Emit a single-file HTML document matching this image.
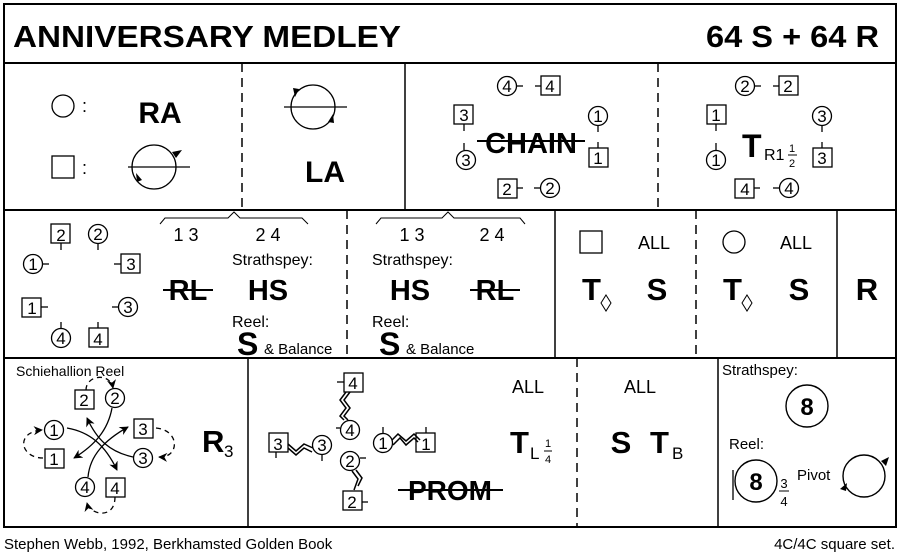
<!DOCTYPE html>
<html><head><meta charset="utf-8"><style>
html,body{margin:0;padding:0;background:#fff}
svg{display:block}
text{font-family:"Liberation Sans",sans-serif;fill:#000}
.b{font-weight:bold}
.n{text-anchor:middle}
</style></head><body>
<svg width="900" height="557" viewBox="0 0 900 557" xmlns="http://www.w3.org/2000/svg" font-size="17">
<defs>
<marker id="ah" viewBox="0 0 10 10" refX="9" refY="5" markerWidth="7" markerHeight="7" orient="auto"><path d="M0,0 L10,5 L0,10 L3,5 Z" fill="#000"/></marker>
</defs>
<g fill="none" stroke="#000" stroke-width="1.5">
<rect x="4" y="4" width="892" height="523" stroke-width="2"/>
<line x1="4" y1="63" x2="896" y2="63" stroke-width="2"/>
<line x1="4" y1="210" x2="896" y2="210" stroke-width="2"/>
<line x1="4" y1="358" x2="896" y2="358" stroke-width="2"/>
<line x1="242" y1="63" x2="242" y2="210" stroke-dasharray="9,6"/>
<line x1="405" y1="63" x2="405" y2="210"/>
<line x1="658" y1="63" x2="658" y2="210" stroke-dasharray="9,6"/>
<line x1="347" y1="210" x2="347" y2="358" stroke-dasharray="9,6"/>
<line x1="555" y1="210" x2="555" y2="358"/>
<line x1="696" y1="210" x2="696" y2="358" stroke-dasharray="9,6"/>
<line x1="837" y1="210" x2="837" y2="358"/>
<line x1="248" y1="358" x2="248" y2="527"/>
<line x1="577" y1="358" x2="577" y2="527" stroke-dasharray="9,6"/>
<line x1="718" y1="358" x2="718" y2="527"/>
</g>
<!-- title -->
<text x="13" y="47" class="b" font-size="31" textLength="388" lengthAdjust="spacingAndGlyphs">ANNIVERSARY MEDLEY</text>
<text x="706" y="47" class="b" font-size="31" textLength="173" lengthAdjust="spacingAndGlyphs">64 S + 64 R</text>

<!-- Row1 panel1 -->
<g fill="none" stroke="#000" stroke-width="1.3">
<circle cx="63" cy="106" r="11"/>
<rect x="52" y="156" width="22" height="22"/>
<circle cx="154" cy="167" r="22"/>
<line x1="128" y1="167" x2="190" y2="167"/>
<circle cx="313" cy="107" r="22"/>
<line x1="284" y1="107" x2="347" y2="107"/>
</g>
<path d="M172,152 l10,-2 l-6,8z M137,182 l-1,-9 l6,7z M299,89 l-4,8 l-2,-9z M328,122 l5,-8 l1,9z" fill="#000"/>
<text x="82" y="112" font-size="18">:</text>
<text x="82" y="174" font-size="18">:</text>
<text x="160" y="123" class="b n" font-size="30">RA</text>
<text x="325" y="182" class="b n" font-size="30">LA</text>

<!-- Row1 panel3 CHAIN -->
<g fill="none" stroke="#000" stroke-width="1.3">
<circle cx="507" cy="86" r="9.5"/><rect x="541" y="76" width="19" height="19"/>
<line x1="517" y1="86" x2="523" y2="86"/><line x1="535" y1="86" x2="541" y2="86"/>
<rect x="454" y="105" width="19" height="19"/><circle cx="466" cy="160" r="9.5"/>
<line x1="464" y1="124" x2="464" y2="131"/><line x1="464" y1="143" x2="464" y2="150"/>
<circle cx="598" cy="116" r="9.5"/><rect x="589" y="148" width="19" height="19"/>
<line x1="598" y1="126" x2="598" y2="132"/><line x1="598" y1="142" x2="598" y2="148"/>
<rect x="498" y="179" width="19" height="19"/><circle cx="550" cy="188" r="9.5"/>
<line x1="517" y1="188" x2="523" y2="188"/><line x1="534" y1="188" x2="540" y2="188"/>
</g>
<text x="507" y="92" class="n">4</text><text x="550" y="92" class="n">4</text>
<text x="464" y="121" class="n">3</text><text x="466" y="166" class="n">3</text>
<text x="598" y="122" class="n">1</text><text x="598" y="164" class="n">1</text>
<text x="507" y="195" class="n">2</text><text x="550" y="194" class="n">2</text>
<text x="531" y="153" class="b n" font-size="29">CHAIN</text>
<line x1="477" y1="141" x2="585" y2="141" stroke="#000" stroke-width="2"/>

<!-- Row1 panel4 -->
<g fill="none" stroke="#000" stroke-width="1.3">
<circle cx="745" cy="86" r="9.5"/><rect x="779" y="76" width="19" height="19"/>
<line x1="755" y1="86" x2="761" y2="86"/><line x1="773" y1="86" x2="779" y2="86"/>
<rect x="707" y="105" width="19" height="19"/><circle cx="716" cy="160" r="9.5"/>
<line x1="716" y1="124" x2="716" y2="131"/><line x1="716" y1="143" x2="716" y2="150"/>
<circle cx="822" cy="116" r="9.5"/><rect x="813" y="148" width="19" height="19"/>
<line x1="822" y1="126" x2="822" y2="132"/><line x1="822" y1="142" x2="822" y2="148"/>
<rect x="735" y="179" width="19" height="19"/><circle cx="789" cy="188" r="9.5"/>
<line x1="754" y1="188" x2="760" y2="188"/><line x1="773" y1="188" x2="779" y2="188"/>
</g>
<text x="745" y="92" class="n">2</text><text x="788" y="92" class="n">2</text>
<text x="716" y="121" class="n">1</text><text x="716" y="166" class="n">1</text>
<text x="822" y="122" class="n">3</text><text x="822" y="164" class="n">3</text>
<text x="745" y="195" class="n">4</text><text x="789" y="194" class="n">4</text>
<text x="742" y="157" class="b" font-size="32">T</text>
<text x="764" y="160" font-size="16">R1</text>
<text x="792" y="152" font-size="11" text-anchor="middle">1</text>
<line x1="788" y1="155" x2="797" y2="155" stroke="#000"/>
<text x="792" y="167" font-size="11" text-anchor="middle">2</text>

<!-- Row2 panel1 nodes -->
<g fill="none" stroke="#000" stroke-width="1.3">
<rect x="51" y="224" width="19" height="19"/><circle cx="98" cy="234" r="9.5"/>
<line x1="61" y1="243" x2="61" y2="250"/><line x1="98" y1="244" x2="98" y2="250"/>
<circle cx="33" cy="264" r="9.5"/><line x1="43" y1="264" x2="49" y2="264"/>
<rect x="121" y="254" width="19" height="19"/><line x1="114" y1="264" x2="121" y2="264"/>
<rect x="22" y="298" width="19" height="19"/><line x1="41" y1="307" x2="48" y2="307"/>
<circle cx="128" cy="307" r="9.5"/><line x1="112" y1="307" x2="118" y2="307"/>
<circle cx="61" cy="338" r="9.5"/><line x1="61" y1="322" x2="61" y2="328"/>
<rect x="89" y="328" width="19" height="19"/><line x1="98" y1="322" x2="98" y2="328"/>
</g>
<text x="61" y="241" class="n">2</text><text x="98" y="240" class="n">2</text>
<text x="33" y="270" class="n">1</text><text x="131" y="270" class="n">3</text>
<text x="32" y="314" class="n">1</text><text x="128" y="313" class="n">3</text>
<text x="61" y="344" class="n">4</text><text x="98" y="345" class="n">4</text>
<!-- braces -->
<path d="M160,224 L165,218 L228,218 L234,212 L240,218 L302,218 L308,224" fill="none" stroke="#000" stroke-width="1"/>
<path d="M376,224 L381,218 L442,218 L448,212 L454,218 L520,218 L525,224" fill="none" stroke="#000" stroke-width="1"/>
<text x="186" y="241" font-size="18" text-anchor="middle">1 3</text>
<text x="268" y="241" font-size="18" text-anchor="middle">2 4</text>
<text x="412" y="241" font-size="18" text-anchor="middle">1 3</text>
<text x="492" y="241" font-size="18" text-anchor="middle">2 4</text>
<text x="232" y="265" font-size="16">Strathspey:</text>
<text x="372" y="265" font-size="16">Strathspey:</text>
<text x="188" y="300" class="b n" font-size="29">RL</text>
<line x1="163" y1="290" x2="213" y2="290" stroke="#000" stroke-width="2"/>
<text x="268" y="300" class="b n" font-size="29">HS</text>
<text x="410" y="300" class="b n" font-size="29">HS</text>
<text x="495" y="300" class="b n" font-size="29">RL</text>
<line x1="470" y1="290" x2="520" y2="290" stroke="#000" stroke-width="2"/>
<text x="232" y="327" font-size="16">Reel:</text>
<text x="372" y="327" font-size="16">Reel:</text>
<text x="237" y="355" class="b" font-size="32">S</text>
<text x="264" y="354" font-size="15">&amp; Balance</text>
<text x="379" y="355" class="b" font-size="32">S</text>
<text x="406" y="354" font-size="15">&amp; Balance</text>

<!-- Row2 panels 3-5 -->
<rect x="580" y="231" width="22" height="22" fill="none" stroke="#000" stroke-width="1.3"/>
<text x="638" y="249" font-size="18">ALL</text>
<text x="582" y="300" class="b" font-size="31">T</text>
<path d="M606,295 l5,8 l-5,8 l-5,-8z" fill="none" stroke="#000"/>
<text x="657" y="300" class="b n" font-size="31">S</text>
<circle cx="734" cy="242" r="11" fill="none" stroke="#000" stroke-width="1.3"/>
<text x="780" y="249" font-size="18">ALL</text>
<text x="723" y="300" class="b" font-size="31">T</text>
<path d="M747,295 l5,8 l-5,8 l-5,-8z" fill="none" stroke="#000"/>
<text x="799" y="300" class="b n" font-size="31">S</text>
<text x="867" y="300" class="b n" font-size="31">R</text>

<!-- Row3 panel1 -->
<text x="16" y="376" font-size="14">Schiehallion Reel</text>
<g fill="none" stroke="#000" stroke-width="1.3">
<rect x="75" y="390" width="19" height="19"/><circle cx="115" cy="398" r="9.5"/>
<circle cx="54" cy="430" r="9.5"/><rect x="45" y="449" width="19" height="19"/>
<rect x="134" y="419" width="19" height="19"/><circle cx="143" cy="458" r="9.5"/>
<circle cx="85" cy="487" r="9.5"/><rect x="106" y="478" width="19" height="19"/>
<path d="M112,408 C108,430 95,445 74,458" marker-end="url(#ah)"/>
<path d="M67,428 C90,432 105,445 117,470" marker-end="url(#ah)"/>
<path d="M133,457 C110,452 97,440 87,418" marker-end="url(#ah)"/>
<path d="M88,477 C90,455 105,440 128,427" marker-end="url(#ah)"/>
<g stroke-dasharray="5,4">
<path d="M86,390 C86,375 110,372 113,388" marker-end="url(#ah)"/>
<path d="M43,458 C20,458 15,432 42,430" marker-end="url(#ah)"/>
<path d="M156,428 C180,430 180,458 159,457" marker-end="url(#ah)"/>
<path d="M115,497 C115,520 90,515 87,503" marker-end="url(#ah)"/>
</g>
</g>
<text x="84" y="406" class="n">2</text><text x="115" y="404" class="n">2</text>
<text x="54" y="436" class="n">1</text><text x="54" y="465" class="n">1</text>
<text x="143" y="435" class="n">3</text><text x="143" y="464" class="n">3</text>
<text x="85" y="493" class="n">4</text><text x="115" y="494" class="n">4</text>
<text x="202" y="452" class="b" font-size="31">R</text>
<text x="224" y="457" font-size="17">3</text>

<!-- Row3 panel2 PROM -->
<g fill="none" stroke="#000" stroke-width="1.3">
<rect x="344" y="373" width="19" height="19"/><line x1="337" y1="382" x2="344" y2="382"/>
<circle cx="350" cy="430" r="9.5"/><line x1="336" y1="428" x2="340" y2="428"/>
<rect x="269" y="433" width="19" height="19"/><line x1="276" y1="452" x2="276" y2="458"/>
<circle cx="322" cy="445" r="9.5"/><line x1="322" y1="455" x2="322" y2="461"/>
<circle cx="383" cy="443" r="9.5"/><line x1="383" y1="427" x2="383" y2="433"/>
<rect x="416" y="433" width="19" height="19"/><line x1="426" y1="427" x2="426" y2="433"/>
<circle cx="350" cy="461" r="9.5"/><line x1="360" y1="458" x2="366" y2="458"/>
<rect x="343" y="491" width="19" height="19"/><line x1="362" y1="502" x2="368" y2="502"/>
<path d="M346,392 L340,400 L346,408 L340,416 L344,420 M350,392 L344,400 L350,408 L344,416 L348,420" stroke-width="1.5"/>
<path d="M288,448 L296,455 L304,448 L312,452 M288,444 L296,451 L304,444 L313,448" stroke-width="1.5"/>
<path d="M392,440 L398,434 L406,441 L414,434 L420,440 M393,445 L400,438 L406,445 L414,438 L418,442" stroke-width="1.5"/>
<path d="M356,470 L362,478 L358,486 M352,471 L358,479 L354,490" stroke-width="1.5"/>
</g>
<text x="353" y="389" class="n">4</text><text x="350" y="436" class="n">4</text>
<text x="278" y="450" class="n">3</text><text x="322" y="451" class="n">3</text>
<text x="383" y="449" class="n">1</text><text x="426" y="450" class="n">1</text>
<text x="350" y="467" class="n">2</text><text x="352" y="508" class="n">2</text>
<text x="450" y="500" class="b n" font-size="28">PROM</text>
<line x1="398" y1="490" x2="503" y2="490" stroke="#000" stroke-width="2"/>
<text x="512" y="393" font-size="18">ALL</text>
<text x="510" y="453" class="b" font-size="31">T</text>
<text x="530" y="459" font-size="17">L</text>
<text x="548" y="447" font-size="11" text-anchor="middle">1</text>
<line x1="544" y1="451" x2="552" y2="451" stroke="#000"/>
<text x="548" y="463" font-size="11" text-anchor="middle">4</text>
<text x="624" y="393" font-size="18">ALL</text>
<text x="621" y="453" class="b n" font-size="31">S</text>
<text x="650" y="453" class="b" font-size="31">T</text>
<text x="672" y="459" font-size="17">B</text>

<!-- Row3 panel4 -->
<text x="722" y="375" font-size="15">Strathspey:</text>
<circle cx="807" cy="406" r="21" fill="none" stroke="#000" stroke-width="1.4"/>
<text x="807" y="415" class="b n" font-size="24">8</text>
<text x="729" y="449" font-size="15">Reel:</text>
<circle cx="756" cy="481" r="21" fill="none" stroke="#000" stroke-width="1.4"/>
<path d="M733,470 L733,500" stroke="#000" stroke-width="1.3"/>
<text x="756" y="490" class="b n" font-size="24">8</text>
<text x="784" y="488" font-size="13" text-anchor="middle">3</text>
<line x1="779" y1="491" x2="789" y2="491" stroke="#000"/>
<text x="784" y="506" font-size="13" text-anchor="middle">4</text>
<text x="797" y="480" font-size="15">Pivot</text>
<circle cx="864" cy="476" r="21" fill="none" stroke="#000" stroke-width="1.4"/>
<path d="M881,461 l8,-4 l-3,9z M846,491 l-6,-2 l7,-6z" fill="#000"/>

<!-- footer -->
<text x="4" y="549" font-size="15">Stephen Webb, 1992, Berkhamsted Golden Book</text>
<text x="895" y="549" font-size="15" text-anchor="end">4C/4C  square set.</text>
</svg>
</body></html>
